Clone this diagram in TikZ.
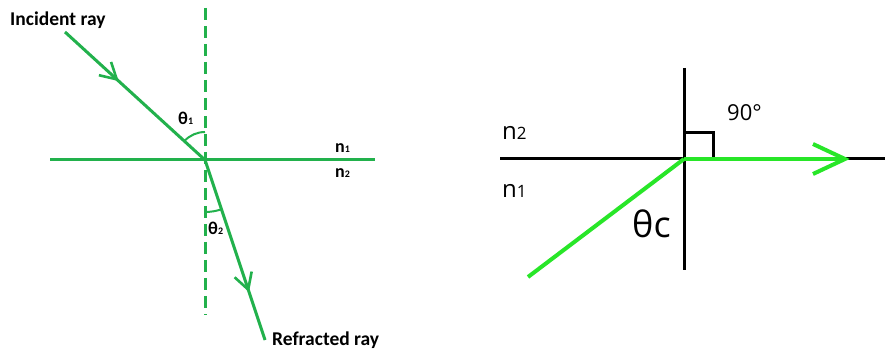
\documentclass[tikz,border=0pt]{standalone}
\usepackage{fontspec}
\setmainfont{Carlito}
\newfontfamily\rfont{Open Sans}
\usetikzlibrary{decorations.markings}
\definecolor{pgreen}{RGB}{34,177,76}
\definecolor{bgreen}{RGB}{40,230,40}
\newcommand{\mysub}[2][10]{{\fontsize{#1}{#1}\selectfont #2}}
\tikzset{
  ray/.style={draw=pgreen, line width=3pt},
  normalline/.style={draw=pgreen, line width=3pt, dash pattern=on 12pt off 6pt},
  chevron/.style={decoration={markings, mark=at position #1 with {\draw[pgreen, line width=2.6pt, line join=miter] (-16pt,9pt) -- (0,0) -- (-16pt,-9pt);}}, postaction={decorate}},
  lbl/.style={font=\bfseries\fontsize{19.5}{19.5}\selectfont, inner sep=0pt, anchor=base west},
  ang/.style={font=\bfseries\fontsize{18}{18}\selectfont, inner sep=0pt, anchor=base west},
  blk/.style={draw=black, line width=3pt},
  gline/.style={draw=bgreen, line width=4pt},
  rlbl/.style={font=\rfont\fontsize{24}{24}\selectfont, inner sep=0pt, anchor=base west},
}
\begin{document}
\begin{tikzpicture}[x=1pt, y=-1pt]
\useasboundingbox[fill=white] (0,0) rectangle (885,352);
% ---------- left diagram ----------
\coordinate (O) at (205,160);
\coordinate (Ntop) at (205,8);
\coordinate (Nbot) at (205,315);
\coordinate (Sl) at (50,160);
\coordinate (Sr) at (375,160);
\coordinate (Istart) at (65,32);
\coordinate (Rend) at (265,340);
\draw[normalline] (Ntop) -- (Nbot);
\draw[ray] (Sl) -- (Sr);
\draw[ray, chevron=0.37] (Istart) -- (O);
\draw[ray, chevron=0.72] (O) -- (Rend);
\draw[pgreen, line width=2pt] (O) ++(0,-28) arc[start angle=-90, end angle=-137.6, radius=28];
\draw[pgreen, line width=2pt] (O) ++(0,52) arc[start angle=90, end angle=71.6, radius=52];
\node[lbl] (inc) at (10,26) {Incident ray};
\node[lbl] (refr) at (272,345) {Refracted ray};
\node[ang] (t1) at (178,125) {θ\mysub{1}};
\node[ang] (t2) at (208,235) {θ\mysub{2}};
\node[ang] (n1l) at (335,153) {n\mysub{1}};
\node[ang] (n2l) at (335,178) {n\mysub{2}};
% ---------- right diagram ----------
\coordinate (P) at (684,159);
\coordinate (Vt) at (684,68);
\coordinate (Vb) at (684,270);
\coordinate (Hl) at (500,159);
\coordinate (Hr) at (885,159);
\coordinate (Gs) at (528,277);
\coordinate (Tip) at (845,159);
\coordinate (Ba) at (813,144);
\coordinate (Bb) at (813,174);
\coordinate (Q1) at (684,133);
\coordinate (Q2) at (713,133);
\coordinate (Q3) at (713,159);
\draw[blk] (Hl) -- (Hr);
\draw[blk] (Vt) -- (Vb);
\draw[draw=black, line width=3pt, line join=miter] (Q1) -- (Q2) -- (Q3);
\draw[gline] (Gs) -- (P);
\draw[gline] (P) -- (Tip);
\draw[gline, line join=miter] (Ba) -- (Tip) -- (Bb);
\node[rlbl] (n2r) at (502,140) {n\mysub[17]{2}};
\node[rlbl] (n1r) at (502,198) {n\mysub[17]{1}};
\node[rlbl, font=\rfont\fontsize{36}{36}\selectfont] (tc) at (632,238) {θc};
\node[rlbl, font=\rfont\fontsize{22}{22}\selectfont] (ninety) at (727,121) {90°};
\end{tikzpicture}
\end{document}
